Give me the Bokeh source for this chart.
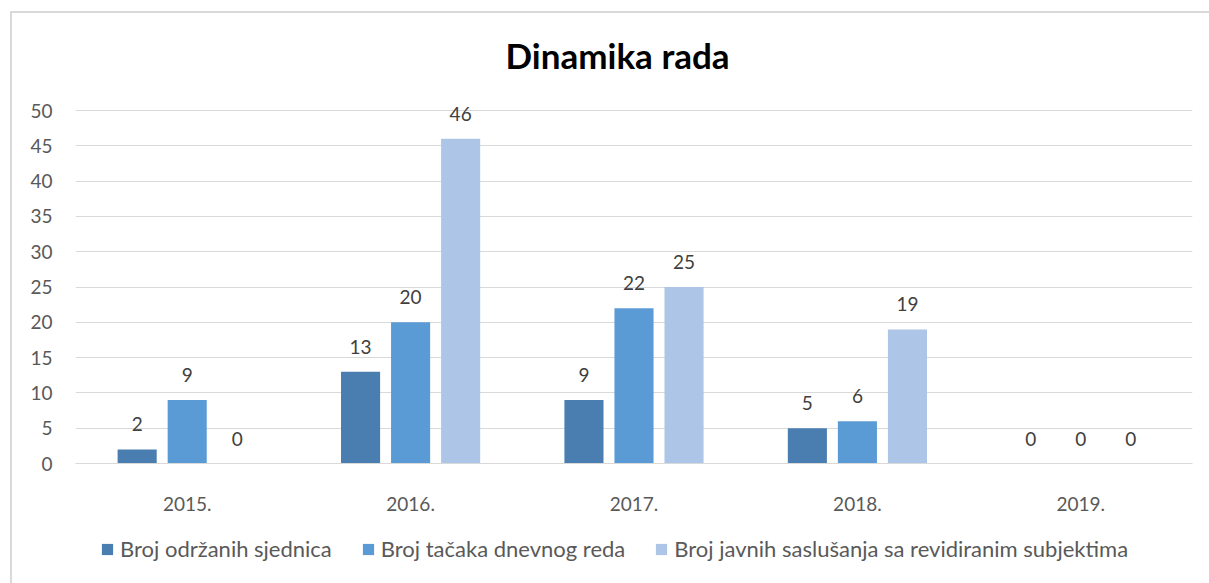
from bokeh.plotting import figure
from bokeh.layouts import column
from bokeh.models import (ColumnDataSource, FactorRange, Range1d, Legend, LegendItem,
                          SingleIntervalTicker, LabelSet, InlineStyleSheet)
from bokeh.core.properties import value
from bokeh.transform import dodge
from bokeh.embed import file_html
from bokeh.resources import INLINE

years = ["2015.", "2016.", "2017.", "2018.", "2019."]
sjednice = [2, 13, 9, 5, 0]
tacke = [9, 20, 22, 6, 0]
saslusanja = [0, 46, 25, 19, 0]
series_names = ["Broj održanih sjednica", "Broj tačaka dnevnog reda",
                "Broj javnih saslušanja sa revidiranim subjektima"]
colors = ["#4A7EB0", "#5B9BD5", "#ADC5E7"]

FONT = "Lato"

src = ColumnDataSource(dict(year=years, s1=sjednice, s2=tacke, s3=saslusanja))

p = figure(x_range=FactorRange(factors=years), y_range=Range1d(0, 52),
           width=1209, height=520, output_backend="svg", toolbar_location=None,
           min_border_left=75, min_border_right=17, min_border_top=96,
           min_border_bottom=57)
p.outline_line_color = None
p.background_fill_color = "white"
p.border_fill_color = "white"

p.title.text = "Dinamika rada"
p.title.text_font = FONT
p.title.text_font_size = "35px"
p.title.text_font_style = "bold"
p.title.text_color = "#000000"
p.title.align = "left"
p.title.offset = 430
p.title.standoff = 41

offsets = [-0.224, 0.0, 0.224]
width = 0.175
for col, off, c in zip(["s1", "s2", "s3"], offsets, colors):
    p.vbar(x=dodge("year", off, range=p.x_range), top=col, width=width,
           source=src, fill_color=c, line_color=None)
    lbl = LabelSet(x=dodge("year", off, range=p.x_range), y=col, text=col, source=src,
                   text_align="center", text_baseline="alphabetic", y_offset=18,
                   text_font=value(FONT), text_font_size=value("19px"),
                   text_color="#404040")
    p.add_layout(lbl)

p.yaxis.ticker = SingleIntervalTicker(interval=5)
p.yaxis.axis_line_color = None
p.yaxis.major_tick_line_color = None
p.yaxis.minor_tick_line_color = None
p.yaxis.major_label_standoff = 17
p.yaxis.major_label_text_font = FONT
p.yaxis.major_label_text_font_size = "19px"
p.yaxis.major_label_text_color = "#595959"

p.xaxis.axis_line_color = "#D9D9D9"
p.xaxis.axis_line_width = 1
p.xaxis.major_tick_line_color = None
p.xaxis.minor_tick_line_color = None
p.xaxis.major_label_standoff = 27
p.xaxis.major_label_text_font = FONT
p.xaxis.major_label_text_font_size = "19px"
p.xaxis.major_label_text_color = "#595959"

p.xgrid.grid_line_color = None
p.ygrid.grid_line_color = "#D9D9D9"
p.ygrid.grid_line_width = 1

# legend strip (separate blank figure holding only the legend)
pl = figure(width=1209, height=63, output_backend="svg", toolbar_location=None,
            x_range=Range1d(0, 1), y_range=Range1d(0, 1),
            x_axis_location=None, y_axis_location=None, min_border=0)
pl.outline_line_color = None
pl.xgrid.grid_line_color = None
pl.ygrid.grid_line_color = None
pl.background_fill_color = "white"
pl.border_fill_color = "white"
# off-screen swatch renderers, used only for the legend keys
swatches = [pl.vbar(x=[-5], top=[-5], bottom=[-6], width=0.1, fill_color=c, line_color=None)
            for c in colors]

legend = Legend(items=[LegendItem(label=n, renderers=[r], index=0)
                       for n, r in zip(series_names, swatches)],
                orientation="horizontal", location=(25, 21), padding=0, margin=0,
                spacing=29, label_standoff=6, glyph_width=14, glyph_height=14,
                label_text_font=FONT, label_text_font_size="22px",
                label_text_color="#595959", border_line_color=None,
                background_fill_alpha=0)
pl.add_layout(legend, "center")

layout = column(p, pl, spacing=0)
layout.stylesheets = [InlineStyleSheet(css="""
:host::after { content: ""; position: absolute; left: 10px; top: 11px; right: 0; bottom: 0;
  border-left: 2px solid #D9D9D9; border-top: 2px solid #D9D9D9;
  pointer-events: none; z-index: 100; }
""")]

open("out.html", "w").write(file_html(layout, INLINE))
